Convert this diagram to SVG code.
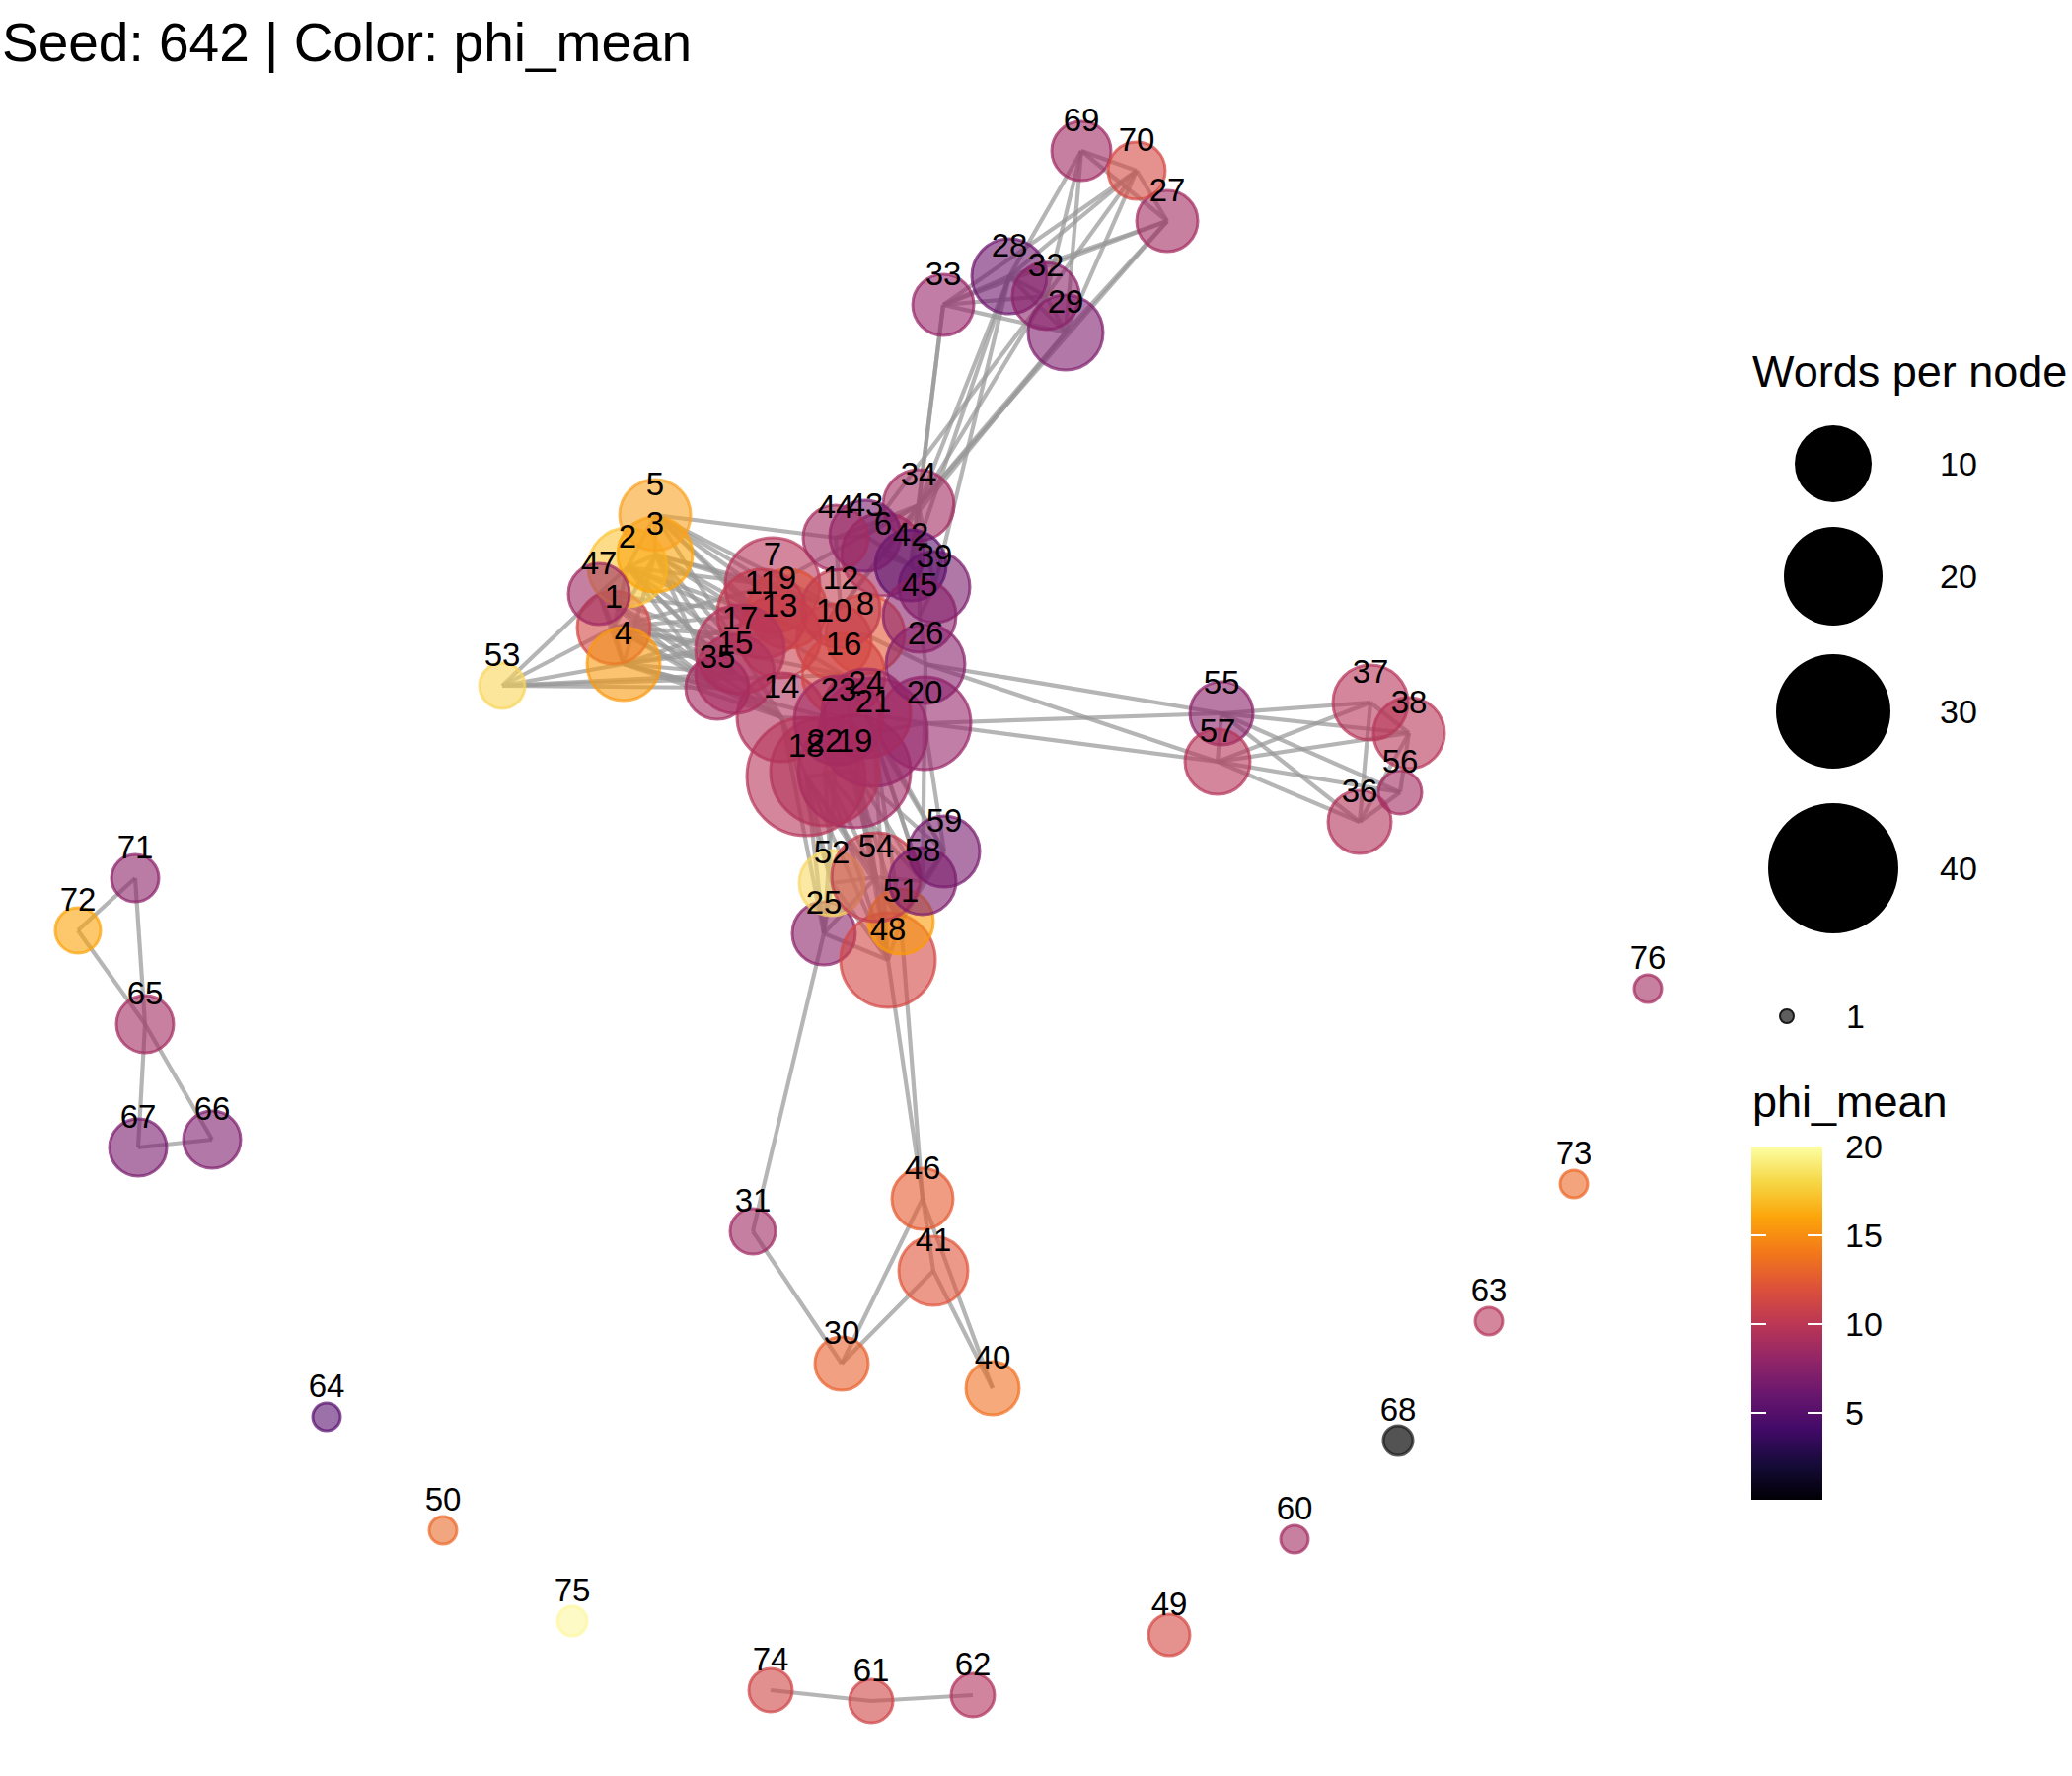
<svg xmlns="http://www.w3.org/2000/svg" width="2100" height="1800" viewBox="0 0 2100 1800">
<defs>
<style>
text{font-family:"Liberation Sans",Arial,sans-serif;fill:#000}
.e line{stroke:#999;stroke-opacity:.72;stroke-width:4.2}
.n{fill:currentColor;stroke:currentColor;fill-opacity:.6;stroke-opacity:.72;stroke-width:3}
.lb text{font-size:33px;text-anchor:middle}
.lg{font-size:34px}
</style>
<linearGradient id="inferno" x1="0" y1="1" x2="0" y2="0">
<stop offset="0" stop-color="#000004"/>
<stop offset="0.1" stop-color="#160b39"/>
<stop offset="0.2" stop-color="#420a68"/>
<stop offset="0.3" stop-color="#6a176e"/>
<stop offset="0.4" stop-color="#932667"/>
<stop offset="0.5" stop-color="#bc3754"/>
<stop offset="0.6" stop-color="#dd513a"/>
<stop offset="0.7" stop-color="#f37819"/>
<stop offset="0.8" stop-color="#fca50a"/>
<stop offset="0.9" stop-color="#f6d746"/>
<stop offset="1" stop-color="#fcffa4"/>
</linearGradient>
</defs>
<rect width="2100" height="1800" fill="#fff"/>
<text x="2" y="62" font-size="55">Seed: 642 | Color: phi_mean</text>

<g id="edges" class="e">
<line x1="664" y1="522" x2="664" y2="562"/>
<line x1="664" y1="522" x2="636" y2="575"/>
<line x1="664" y1="562" x2="636" y2="575"/>
<line x1="636" y1="575" x2="607" y2="602"/>
<line x1="636" y1="575" x2="622" y2="636"/>
<line x1="664" y1="562" x2="622" y2="636"/>
<line x1="607" y1="602" x2="622" y2="636"/>
<line x1="622" y1="636" x2="632" y2="673"/>
<line x1="607" y1="602" x2="632" y2="673"/>
<line x1="664" y1="562" x2="632" y2="673"/>
<line x1="509" y1="695" x2="607" y2="602"/>
<line x1="509" y1="695" x2="622" y2="636"/>
<line x1="509" y1="695" x2="632" y2="673"/>
<line x1="509" y1="695" x2="727" y2="697"/>
<line x1="509" y1="695" x2="855" y2="684"/>
<line x1="509" y1="695" x2="745" y2="683"/>
<line x1="664" y1="522" x2="783" y2="593"/>
<line x1="664" y1="522" x2="772" y2="622"/>
<line x1="664" y1="522" x2="798" y2="617"/>
<line x1="664" y1="522" x2="852" y2="617"/>
<line x1="664" y1="522" x2="790" y2="645"/>
<line x1="664" y1="522" x2="847" y2="545"/>
<line x1="664" y1="522" x2="750" y2="658"/>
<line x1="664" y1="562" x2="783" y2="593"/>
<line x1="664" y1="562" x2="772" y2="622"/>
<line x1="664" y1="562" x2="750" y2="658"/>
<line x1="664" y1="562" x2="790" y2="645"/>
<line x1="664" y1="562" x2="745" y2="683"/>
<line x1="664" y1="562" x2="852" y2="617"/>
<line x1="664" y1="562" x2="727" y2="697"/>
<line x1="636" y1="575" x2="783" y2="593"/>
<line x1="636" y1="575" x2="750" y2="658"/>
<line x1="636" y1="575" x2="745" y2="683"/>
<line x1="636" y1="575" x2="727" y2="697"/>
<line x1="636" y1="575" x2="792" y2="727"/>
<line x1="636" y1="575" x2="790" y2="645"/>
<line x1="636" y1="575" x2="845" y2="650"/>
<line x1="607" y1="602" x2="750" y2="658"/>
<line x1="607" y1="602" x2="745" y2="683"/>
<line x1="607" y1="602" x2="727" y2="697"/>
<line x1="607" y1="602" x2="772" y2="622"/>
<line x1="607" y1="602" x2="792" y2="727"/>
<line x1="622" y1="636" x2="783" y2="593"/>
<line x1="622" y1="636" x2="750" y2="658"/>
<line x1="622" y1="636" x2="745" y2="683"/>
<line x1="622" y1="636" x2="727" y2="697"/>
<line x1="622" y1="636" x2="792" y2="727"/>
<line x1="622" y1="636" x2="790" y2="645"/>
<line x1="622" y1="636" x2="772" y2="622"/>
<line x1="622" y1="636" x2="855" y2="684"/>
<line x1="632" y1="673" x2="745" y2="683"/>
<line x1="632" y1="673" x2="727" y2="697"/>
<line x1="632" y1="673" x2="792" y2="727"/>
<line x1="632" y1="673" x2="750" y2="658"/>
<line x1="632" y1="673" x2="790" y2="645"/>
<line x1="632" y1="673" x2="850" y2="730"/>
<line x1="632" y1="673" x2="798" y2="617"/>
<line x1="783" y1="593" x2="852" y2="617"/>
<line x1="772" y1="622" x2="845" y2="650"/>
<line x1="790" y1="645" x2="855" y2="684"/>
<line x1="750" y1="658" x2="792" y2="727"/>
<line x1="727" y1="697" x2="792" y2="727"/>
<line x1="792" y1="727" x2="850" y2="730"/>
<line x1="792" y1="727" x2="817" y2="787"/>
<line x1="852" y1="617" x2="895" y2="562"/>
<line x1="852" y1="617" x2="847" y2="545"/>
<line x1="845" y1="650" x2="877" y2="643"/>
<line x1="855" y1="684" x2="878" y2="723"/>
<line x1="877" y1="643" x2="938" y2="673"/>
<line x1="895" y1="562" x2="923" y2="573"/>
<line x1="877" y1="543" x2="923" y2="573"/>
<line x1="847" y1="545" x2="877" y2="543"/>
<line x1="923" y1="573" x2="947" y2="595"/>
<line x1="947" y1="595" x2="932" y2="624"/>
<line x1="932" y1="624" x2="938" y2="673"/>
<line x1="938" y1="673" x2="937" y2="733"/>
<line x1="878" y1="723" x2="937" y2="733"/>
<line x1="885" y1="742" x2="937" y2="733"/>
<line x1="850" y1="730" x2="836" y2="782"/>
<line x1="836" y1="782" x2="866" y2="782"/>
<line x1="817" y1="787" x2="866" y2="782"/>
<line x1="866" y1="782" x2="885" y2="742"/>
<line x1="931" y1="512" x2="847" y2="545"/>
<line x1="931" y1="512" x2="877" y2="543"/>
<line x1="931" y1="512" x2="895" y2="562"/>
<line x1="931" y1="512" x2="923" y2="573"/>
<line x1="931" y1="512" x2="852" y2="617"/>
<line x1="931" y1="512" x2="783" y2="593"/>
<line x1="931" y1="512" x2="947" y2="595"/>
<line x1="931" y1="512" x2="932" y2="624"/>
<line x1="931" y1="512" x2="956" y2="309"/>
<line x1="931" y1="512" x2="1023" y2="280"/>
<line x1="931" y1="512" x2="1060" y2="300"/>
<line x1="931" y1="512" x2="1080" y2="337"/>
<line x1="931" y1="512" x2="1183" y2="224"/>
<line x1="923" y1="573" x2="956" y2="309"/>
<line x1="923" y1="573" x2="1023" y2="280"/>
<line x1="947" y1="595" x2="1023" y2="280"/>
<line x1="877" y1="543" x2="1060" y2="300"/>
<line x1="895" y1="562" x2="1080" y2="337"/>
<line x1="1096" y1="153" x2="1152" y2="173"/>
<line x1="1096" y1="153" x2="1183" y2="224"/>
<line x1="1152" y1="173" x2="1183" y2="224"/>
<line x1="1096" y1="153" x2="1023" y2="280"/>
<line x1="1096" y1="153" x2="1060" y2="300"/>
<line x1="1096" y1="153" x2="1080" y2="337"/>
<line x1="1152" y1="173" x2="1023" y2="280"/>
<line x1="1152" y1="173" x2="956" y2="309"/>
<line x1="1152" y1="173" x2="1080" y2="337"/>
<line x1="1152" y1="173" x2="1060" y2="300"/>
<line x1="1183" y1="224" x2="1023" y2="280"/>
<line x1="1183" y1="224" x2="1080" y2="337"/>
<line x1="1183" y1="224" x2="956" y2="309"/>
<line x1="956" y1="309" x2="1023" y2="280"/>
<line x1="956" y1="309" x2="1060" y2="300"/>
<line x1="956" y1="309" x2="1080" y2="337"/>
<line x1="1023" y1="280" x2="1060" y2="300"/>
<line x1="1023" y1="280" x2="1080" y2="337"/>
<line x1="1060" y1="300" x2="1080" y2="337"/>
<line x1="938" y1="673" x2="1238" y2="723"/>
<line x1="937" y1="733" x2="1238" y2="723"/>
<line x1="938" y1="673" x2="1234" y2="772"/>
<line x1="937" y1="733" x2="1234" y2="772"/>
<line x1="1238" y1="723" x2="1234" y2="772"/>
<line x1="1238" y1="723" x2="1389" y2="712"/>
<line x1="1238" y1="723" x2="1428" y2="743"/>
<line x1="1238" y1="723" x2="1378" y2="833"/>
<line x1="1238" y1="723" x2="1419" y2="803"/>
<line x1="1234" y1="772" x2="1389" y2="712"/>
<line x1="1234" y1="772" x2="1428" y2="743"/>
<line x1="1234" y1="772" x2="1378" y2="833"/>
<line x1="1234" y1="772" x2="1419" y2="803"/>
<line x1="1389" y1="712" x2="1428" y2="743"/>
<line x1="1389" y1="712" x2="1378" y2="833"/>
<line x1="1428" y1="743" x2="1419" y2="803"/>
<line x1="1428" y1="743" x2="1378" y2="833"/>
<line x1="1378" y1="833" x2="1419" y2="803"/>
<line x1="843" y1="895" x2="888" y2="889"/>
<line x1="843" y1="895" x2="835" y2="946"/>
<line x1="888" y1="889" x2="935" y2="893"/>
<line x1="888" y1="889" x2="913" y2="934"/>
<line x1="935" y1="893" x2="957" y2="863"/>
<line x1="913" y1="934" x2="935" y2="893"/>
<line x1="913" y1="934" x2="900" y2="973"/>
<line x1="835" y1="946" x2="900" y2="973"/>
<line x1="888" y1="889" x2="900" y2="973"/>
<line x1="843" y1="895" x2="900" y2="973"/>
<line x1="957" y1="863" x2="913" y2="934"/>
<line x1="888" y1="889" x2="835" y2="946"/>
<line x1="817" y1="787" x2="843" y2="895"/>
<line x1="817" y1="787" x2="888" y2="889"/>
<line x1="817" y1="787" x2="835" y2="946"/>
<line x1="792" y1="727" x2="835" y2="946"/>
<line x1="792" y1="727" x2="843" y2="895"/>
<line x1="836" y1="782" x2="843" y2="895"/>
<line x1="836" y1="782" x2="888" y2="889"/>
<line x1="836" y1="782" x2="935" y2="893"/>
<line x1="836" y1="782" x2="900" y2="973"/>
<line x1="866" y1="782" x2="888" y2="889"/>
<line x1="866" y1="782" x2="935" y2="893"/>
<line x1="866" y1="782" x2="957" y2="863"/>
<line x1="866" y1="782" x2="913" y2="934"/>
<line x1="866" y1="782" x2="900" y2="973"/>
<line x1="885" y1="742" x2="935" y2="893"/>
<line x1="885" y1="742" x2="957" y2="863"/>
<line x1="885" y1="742" x2="913" y2="934"/>
<line x1="885" y1="742" x2="900" y2="973"/>
<line x1="850" y1="730" x2="888" y2="889"/>
<line x1="850" y1="730" x2="835" y2="946"/>
<line x1="878" y1="723" x2="957" y2="863"/>
<line x1="878" y1="723" x2="935" y2="893"/>
<line x1="937" y1="733" x2="957" y2="863"/>
<line x1="937" y1="733" x2="935" y2="893"/>
<line x1="817" y1="787" x2="900" y2="973"/>
<line x1="855" y1="684" x2="888" y2="889"/>
<line x1="817" y1="787" x2="913" y2="934"/>
<line x1="763" y1="1248" x2="835" y2="946"/>
<line x1="913" y1="934" x2="935" y2="1215"/>
<line x1="900" y1="973" x2="946" y2="1288"/>
<line x1="763" y1="1248" x2="853" y2="1382"/>
<line x1="853" y1="1382" x2="935" y2="1215"/>
<line x1="853" y1="1382" x2="946" y2="1288"/>
<line x1="935" y1="1215" x2="1006" y2="1407"/>
<line x1="946" y1="1288" x2="1006" y2="1407"/>
<line x1="137" y1="890" x2="79" y2="943"/>
<line x1="137" y1="890" x2="147" y2="1038"/>
<line x1="79" y1="943" x2="147" y2="1038"/>
<line x1="147" y1="1038" x2="215" y2="1155"/>
<line x1="147" y1="1038" x2="140" y2="1163"/>
<line x1="140" y1="1163" x2="215" y2="1155"/>
<line x1="781" y1="1713" x2="883" y2="1724"/>
<line x1="883" y1="1724" x2="986" y2="1718"/>
</g>

<g id="nodes">
<g id="node-1"><circle class="n" color="#d24644" cx="622" cy="636" r="37"/></g>
<g id="node-2"><circle class="n" color="#fcc53a" cx="636" cy="575" r="40"/></g>
<g id="node-3"><circle class="n" color="#fca50a" cx="664" cy="562" r="38"/></g>
<g id="node-4"><circle class="n" color="#f99a10" cx="632" cy="673" r="37"/></g>
<g id="node-5"><circle class="n" color="#f9a222" cx="664" cy="522" r="36"/></g>
<g id="node-6"><circle class="n" color="#a02a63" cx="895" cy="562" r="42"/></g>
<g id="node-7"><circle class="n" color="#b5365a" cx="783" cy="593" r="48"/></g>
<g id="node-8"><circle class="n" color="#e25734" cx="877" cy="643" r="40"/></g>
<g id="node-9"><circle class="n" color="#de5238" cx="798" cy="617" r="40"/></g>
<g id="node-10"><circle class="n" color="#d44842" cx="845" cy="650" r="38"/></g>
<g id="node-11"><circle class="n" color="#c03c51" cx="772" cy="622" r="45"/></g>
<g id="node-12"><circle class="n" color="#c23d50" cx="852" cy="617" r="40"/></g>
<g id="node-13"><circle class="n" color="#c83f4d" cx="790" cy="645" r="42"/></g>
<g id="node-14"><circle class="n" color="#b0325d" cx="792" cy="727" r="45"/></g>
<g id="node-15"><circle class="n" color="#ad3060" cx="745" cy="683" r="40"/></g>
<g id="node-16"><circle class="n" color="#d24644" cx="855" cy="684" r="42"/></g>
<g id="node-17"><circle class="n" color="#b3345b" cx="750" cy="658" r="45"/></g>
<g id="node-18"><circle class="n" color="#b5365a" cx="817" cy="787" r="60"/></g>
<g id="node-19"><circle class="n" color="#a02a63" cx="866" cy="782" r="57"/></g>
<g id="node-20"><circle class="n" color="#98286a" cx="937" cy="733" r="47"/></g>
<g id="node-21"><circle class="n" color="#96276a" cx="885" cy="742" r="55"/></g>
<g id="node-22"><circle class="n" color="#b3345b" cx="836" cy="782" r="55"/></g>
<g id="node-23"><circle class="n" color="#a52c60" cx="850" cy="730" r="45"/></g>
<g id="node-24"><circle class="n" color="#a52c60" cx="878" cy="723" r="45"/></g>
<g id="node-25"><circle class="n" color="#8c2369" cx="835" cy="946" r="32"/></g>
<g id="node-26"><circle class="n" color="#88226a" cx="938" cy="673" r="40"/></g>
<g id="node-27"><circle class="n" color="#a42c61" cx="1183" cy="224" r="31"/></g>
<g id="node-28"><circle class="n" color="#6e186e" cx="1023" cy="280" r="38"/></g>
<g id="node-29"><circle class="n" color="#7e1e6d" cx="1080" cy="337" r="38"/></g>
<g id="node-30"><circle class="n" color="#e8602e" cx="853" cy="1382" r="27"/></g>
<g id="node-31"><circle class="n" color="#9f2a63" cx="763" cy="1248" r="23"/></g>
<g id="node-32"><circle class="n" color="#8c2369" cx="1060" cy="300" r="34"/></g>
<g id="node-33"><circle class="n" color="#972769" cx="956" cy="309" r="31"/></g>
<g id="node-34"><circle class="n" color="#a42c61" cx="931" cy="512" r="36"/></g>
<g id="node-35"><circle class="n" color="#a52c60" cx="727" cy="697" r="32"/></g>
<g id="node-36"><circle class="n" color="#b1335c" cx="1378" cy="833" r="32"/></g>
<g id="node-37"><circle class="n" color="#b5365a" cx="1389" cy="712" r="38"/></g>
<g id="node-38"><circle class="n" color="#b83759" cx="1428" cy="743" r="36"/></g>
<g id="node-39"><circle class="n" color="#7c1e6d" cx="947" cy="595" r="36"/></g>
<g id="node-40"><circle class="n" color="#f07021" cx="1006" cy="1407" r="27"/></g>
<g id="node-41"><circle class="n" color="#e0553b" cx="946" cy="1288" r="35"/></g>
<g id="node-42"><circle class="n" color="#5c126e" cx="923" cy="573" r="36"/></g>
<g id="node-43"><circle class="n" color="#7a1d6d" cx="877" cy="543" r="36"/></g>
<g id="node-44"><circle class="n" color="#a42c61" cx="847" cy="545" r="33"/></g>
<g id="node-45"><circle class="n" color="#8a226a" cx="932" cy="624" r="37"/></g>
<g id="node-46"><circle class="n" color="#e45a31" cx="935" cy="1215" r="31"/></g>
<g id="node-47"><circle class="n" color="#9f2a63" cx="607" cy="602" r="31"/></g>
<g id="node-48"><circle class="n" color="#d24644" cx="900" cy="973" r="48"/></g>
<g id="node-49"><circle class="n" color="#d44842" cx="1185" cy="1657" r="21"/></g>
<g id="node-50"><circle class="n" color="#ea6a2a" cx="449" cy="1551" r="14"/></g>
<g id="node-51"><circle class="n" color="#fb9b06" cx="913" cy="934" r="33"/></g>
<g id="node-52"><circle class="n" color="#f8d866" cx="843" cy="895" r="33"/></g>
<g id="node-53"><circle class="n" color="#f8d55a" cx="509" cy="695" r="23"/></g>
<g id="node-54"><circle class="n" color="#c23d50" cx="888" cy="889" r="45"/></g>
<g id="node-55"><circle class="n" color="#8a226a" cx="1238" cy="723" r="32"/></g>
<g id="node-56"><circle class="n" color="#a42c61" cx="1419" cy="803" r="22"/></g>
<g id="node-57"><circle class="n" color="#b5365a" cx="1234" cy="772" r="33"/></g>
<g id="node-58"><circle class="n" color="#7e1e6d" cx="935" cy="893" r="34"/></g>
<g id="node-59"><circle class="n" color="#781c6d" cx="957" cy="863" r="36"/></g>
<g id="node-60"><circle class="n" color="#a42c61" cx="1312" cy="1560" r="14"/></g>
<g id="node-61"><circle class="n" color="#cf4446" cx="883" cy="1724" r="22"/></g>
<g id="node-62"><circle class="n" color="#b0325d" cx="986" cy="1718" r="22"/></g>
<g id="node-63"><circle class="n" color="#b5365a" cx="1509" cy="1339" r="14"/></g>
<g id="node-64"><circle class="n" color="#5a1270" cx="331" cy="1436" r="14"/></g>
<g id="node-65"><circle class="n" color="#a42c61" cx="147" cy="1038" r="29"/></g>
<g id="node-66"><circle class="n" color="#7e1e6d" cx="215" cy="1155" r="29"/></g>
<g id="node-67"><circle class="n" color="#781c6d" cx="140" cy="1163" r="29"/></g>
<g id="node-68"><circle class="n" color="#1a1a1a" style="fill-opacity:.75" cx="1417" cy="1460" r="15"/></g>
<g id="node-69"><circle class="n" color="#a02a63" cx="1096" cy="153" r="30"/></g>
<g id="node-70"><circle class="n" color="#d44842" cx="1152" cy="173" r="29"/></g>
<g id="node-71"><circle class="n" color="#8c2369" cx="137" cy="890" r="24"/></g>
<g id="node-72"><circle class="n" color="#fba40a" cx="79" cy="943" r="23"/></g>
<g id="node-73"><circle class="n" color="#ec6726" cx="1595" cy="1200" r="14"/></g>
<g id="node-74"><circle class="n" color="#cf4446" cx="781" cy="1713" r="22"/></g>
<g id="node-75"><circle class="n" color="#fcf6a0" cx="580" cy="1643" r="15"/></g>
<g id="node-76"><circle class="n" color="#a42c61" cx="1670" cy="1002" r="14"/></g>
</g>

<g id="node-labels" class="lb">
<text x="622" y="616">1</text>
<text x="636" y="555">2</text>
<text x="664" y="542">3</text>
<text x="632" y="653">4</text>
<text x="664" y="502">5</text>
<text x="895" y="542">6</text>
<text x="783" y="573">7</text>
<text x="877" y="623">8</text>
<text x="798" y="597">9</text>
<text x="845" y="630">10</text>
<text x="772" y="602">11</text>
<text x="852" y="597">12</text>
<text x="790" y="625">13</text>
<text x="792" y="707">14</text>
<text x="745" y="663">15</text>
<text x="855" y="664">16</text>
<text x="750" y="638">17</text>
<text x="817" y="767">18</text>
<text x="866" y="762">19</text>
<text x="937" y="713">20</text>
<text x="885" y="722">21</text>
<text x="836" y="762">22</text>
<text x="850" y="710">23</text>
<text x="878" y="703">24</text>
<text x="835" y="926">25</text>
<text x="938" y="653">26</text>
<text x="1183" y="204">27</text>
<text x="1023" y="260">28</text>
<text x="1080" y="317">29</text>
<text x="853" y="1362">30</text>
<text x="763" y="1228">31</text>
<text x="1060" y="280">32</text>
<text x="956" y="289">33</text>
<text x="931" y="492">34</text>
<text x="727" y="677">35</text>
<text x="1378" y="813">36</text>
<text x="1389" y="692">37</text>
<text x="1428" y="723">38</text>
<text x="947" y="575">39</text>
<text x="1006" y="1387">40</text>
<text x="946" y="1268">41</text>
<text x="923" y="553">42</text>
<text x="877" y="523">43</text>
<text x="847" y="525">44</text>
<text x="932" y="604">45</text>
<text x="935" y="1195">46</text>
<text x="607" y="582">47</text>
<text x="900" y="953">48</text>
<text x="1185" y="1637">49</text>
<text x="449" y="1531">50</text>
<text x="913" y="914">51</text>
<text x="843" y="875">52</text>
<text x="509" y="675">53</text>
<text x="888" y="869">54</text>
<text x="1238" y="703">55</text>
<text x="1419" y="783">56</text>
<text x="1234" y="752">57</text>
<text x="935" y="873">58</text>
<text x="957" y="843">59</text>
<text x="1312" y="1540">60</text>
<text x="883" y="1704">61</text>
<text x="986" y="1698">62</text>
<text x="1509" y="1319">63</text>
<text x="331" y="1416">64</text>
<text x="147" y="1018">65</text>
<text x="215" y="1135">66</text>
<text x="140" y="1143">67</text>
<text x="1417" y="1440">68</text>
<text x="1096" y="133">69</text>
<text x="1152" y="153">70</text>
<text x="137" y="870">71</text>
<text x="79" y="923">72</text>
<text x="1595" y="1180">73</text>
<text x="781" y="1693">74</text>
<text x="580" y="1623">75</text>
<text x="1670" y="982">76</text>
</g>

<g id="legend-size">
<text x="1776" y="392" font-size="45">Words per node</text>
<circle cx="1858" cy="470" r="39" fill="#000"/>
<circle cx="1858" cy="584" r="50" fill="#000"/>
<circle cx="1858" cy="721" r="58" fill="#000"/>
<circle cx="1858" cy="880" r="66" fill="#000"/>
<text class="lg" x="1966" y="482">10</text>
<text class="lg" x="1966" y="596">20</text>
<text class="lg" x="1966" y="733">30</text>
<text class="lg" x="1966" y="892">40</text>
<circle cx="1811" cy="1030" r="7" fill="#1a1a1a" fill-opacity=".7" stroke="#1a1a1a" stroke-width="2"/>
<text class="lg" x="1871" y="1042">1</text>
</g>

<g id="legend-color">
<text x="1776" y="1132" font-size="45">phi_mean</text>
<rect x="1775" y="1162" width="72" height="358" fill="url(#inferno)"/>
<g stroke="#fff" stroke-width="2">
<line x1="1775" y1="1252" x2="1790" y2="1252"/><line x1="1832" y1="1252" x2="1847" y2="1252"/>
<line x1="1775" y1="1342" x2="1790" y2="1342"/><line x1="1832" y1="1342" x2="1847" y2="1342"/>
<line x1="1775" y1="1432" x2="1790" y2="1432"/><line x1="1832" y1="1432" x2="1847" y2="1432"/>
</g>
<text class="lg" x="1870" y="1174">20</text>
<text class="lg" x="1870" y="1264">15</text>
<text class="lg" x="1870" y="1354">10</text>
<text class="lg" x="1870" y="1444">5</text>
</g>
</svg>
